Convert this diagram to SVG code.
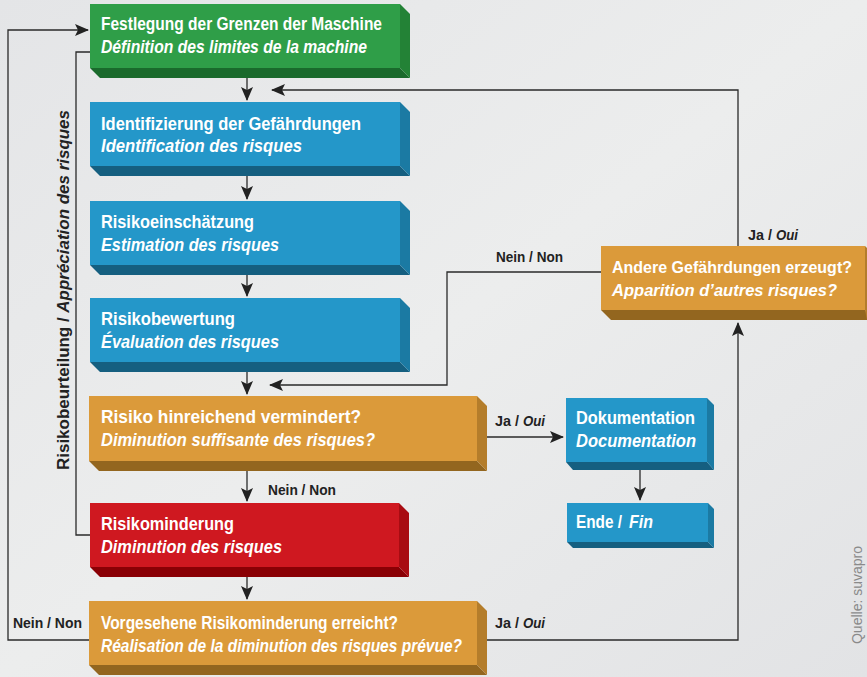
<svg xmlns="http://www.w3.org/2000/svg" width="867" height="677" viewBox="0 0 867 677">
  <defs>
    <linearGradient id="bg" x1="0" y1="0" x2="1" y2="1">
      <stop offset="0" stop-color="#e4e5e7"/>
      <stop offset="0.5" stop-color="#eceded"/>
      <stop offset="1" stop-color="#e2e3e5"/>
    </linearGradient>
    <marker id="arr" viewBox="0 0 14 12" refX="13" refY="6" markerWidth="14" markerHeight="12" markerUnits="userSpaceOnUse" orient="auto">
      <path d="M0,0 L14,6 L0,12 L3,6 z" fill="#222"/>
    </marker>
    <style>
      .t { font-family: "Liberation Sans", Arial, sans-serif; font-weight: bold; font-size: 18px; fill: #ffffff; }
      .t.s { font-size: 16.5px; }
      .i { font-style: italic; }
      .lbl { font-family: "Liberation Sans", Arial, sans-serif; font-weight: bold; font-size: 14px; fill: #222; }
      .side { font-family: "Liberation Sans", Arial, sans-serif; font-weight: bold; font-size: 17px; fill: #222; }
      .src { font-family: "Liberation Sans", Arial, sans-serif; font-size: 14px; fill: #8a8a8a; }
      .ln { fill: none; stroke: #2a2a2a; stroke-width: 1.3; }
      .ah { marker-end: url(#arr); }
      .g1 { fill: #2f9e48; } .g2 { fill: #1a6a2c; } .g3 { fill: #238236; }
      .b1 { fill: #2497c9; } .b2 { fill: #155f80; } .b3 { fill: #1b7aa3; }
      .o1 { fill: #db9a3a; } .o2 { fill: #93661f; } .o3 { fill: #b47d2b; }
      .r1 { fill: #cf1820; } .r2 { fill: #8a0005; } .r3 { fill: #a80c12; }
    </style>
  </defs>

  <rect x="0" y="0" width="867" height="677" fill="url(#bg)"/>

  <!-- connectors -->
  <g id="connectors">
    <path class="ln ah" d="M247,78 V100"/>
    <path class="ln ah" d="M738,246 V90 H272"/>
    <path class="ln ah" d="M247,176 V199"/>
    <path class="ln ah" d="M247,275 V296"/>
    <path class="ln ah" d="M247,372 V394"/>
    <path class="ln ah" d="M601,272 H447 V385 H270"/>
    <path class="ln ah" d="M487,437 H563"/>
    <path class="ln ah" d="M247,471 V501"/>
    <path class="ln ah" d="M640,470 V500"/>
    <path class="ln ah" d="M247,577 V599"/>
    <path class="ln ah" d="M487,640 H738 V323"/>
    <path class="ln ah" d="M89,640 H8 V30 H88"/>
    <path class="ln" d="M90,535 H76 V52 H90"/>
  </g>

  <!-- connector labels -->
  <g id="labels">
    <text class="lbl" x="748" y="240" textLength="24" lengthAdjust="spacingAndGlyphs">Ja /</text>
    <text class="lbl i" x="776" y="240" textLength="22" lengthAdjust="spacingAndGlyphs">Oui</text>
    <text class="lbl" x="496" y="262" textLength="67" lengthAdjust="spacingAndGlyphs">Nein / Non</text>
    <text class="lbl" x="495" y="426" textLength="24" lengthAdjust="spacingAndGlyphs">Ja /</text>
    <text class="lbl i" x="523" y="426" textLength="22" lengthAdjust="spacingAndGlyphs">Oui</text>
    <text class="lbl" x="268" y="495" textLength="68" lengthAdjust="spacingAndGlyphs">Nein / Non</text>
    <text class="lbl" x="495" y="628" textLength="24" lengthAdjust="spacingAndGlyphs">Ja /</text>
    <text class="lbl i" x="523" y="628" textLength="22" lengthAdjust="spacingAndGlyphs">Oui</text>
    <text class="lbl" x="13" y="628" textLength="69" lengthAdjust="spacingAndGlyphs">Nein / Non</text>
    <text class="side" transform="translate(69,470) rotate(-90)" textLength="360" lengthAdjust="spacingAndGlyphs">Risikobeurteilung  / <tspan class="i">Appréciation des risques</tspan></text>
    <text class="src" transform="translate(862,595) rotate(-90)" text-anchor="middle">Quelle: suvapro</text>
  </g>

  <!-- nodes -->
  <g id="n-festlegung">
    <polygon class="g2" points="90,68 400,68 410,78 100,78"/>
    <polygon class="g3" points="400,4 410,14 410,78 400,68"/>
    <rect class="g1" x="90" y="4" width="310" height="64"/>
    <text class="t" x="101" y="30" textLength="281" lengthAdjust="spacingAndGlyphs">Festlegung der Grenzen der Maschine</text>
    <text class="t i" x="101" y="53" textLength="266" lengthAdjust="spacingAndGlyphs">Définition des limites de la machine</text>
  </g>

  <g id="n-identifizierung">
    <polygon class="b2" points="90,166 400,166 410,176 100,176"/>
    <polygon class="b3" points="400,102 410,112 410,176 400,166"/>
    <rect class="b1" x="90" y="102" width="310" height="64"/>
    <text class="t" x="101" y="130" textLength="260" lengthAdjust="spacingAndGlyphs">Identifizierung der Gefährdungen</text>
    <text class="t i" x="101" y="152" textLength="201" lengthAdjust="spacingAndGlyphs">Identification des risques</text>
  </g>

  <g id="n-einschaetzung">
    <polygon class="b2" points="90,265 400,265 410,275 100,275"/>
    <polygon class="b3" points="400,201 410,211 410,275 400,265"/>
    <rect class="b1" x="90" y="201" width="310" height="64"/>
    <text class="t" x="101" y="228" textLength="153" lengthAdjust="spacingAndGlyphs">Risikoeinschätzung</text>
    <text class="t i" x="101" y="251" textLength="178" lengthAdjust="spacingAndGlyphs">Estimation des risques</text>
  </g>

  <g id="n-bewertung">
    <polygon class="b2" points="90,362 400,362 410,372 100,372"/>
    <polygon class="b3" points="400,298 410,308 410,372 400,362"/>
    <rect class="b1" x="90" y="298" width="310" height="64"/>
    <text class="t" x="101" y="325" textLength="134" lengthAdjust="spacingAndGlyphs">Risikobewertung</text>
    <text class="t i" x="101" y="348" textLength="178" lengthAdjust="spacingAndGlyphs">Évaluation des risques</text>
  </g>

  <g id="n-hinreichend">
    <polygon class="o2" points="89,461 477,461 487,471 99,471"/>
    <polygon class="o3" points="477,396 487,406 487,471 477,461"/>
    <rect class="o1" x="89" y="396" width="388" height="65"/>
    <text class="t" x="101" y="423" textLength="260" lengthAdjust="spacingAndGlyphs">Risiko hinreichend vermindert?</text>
    <text class="t i" x="101" y="446" textLength="274" lengthAdjust="spacingAndGlyphs">Diminution suffisante des risques?</text>
  </g>

  <g id="n-minderung">
    <polygon class="r2" points="90,567 399,567 409,577 100,577"/>
    <polygon class="r3" points="399,503 409,513 409,577 399,567"/>
    <rect class="r1" x="90" y="503" width="309" height="64"/>
    <text class="t" x="101" y="530" textLength="133" lengthAdjust="spacingAndGlyphs">Risikominderung</text>
    <text class="t i" x="101" y="553" textLength="181" lengthAdjust="spacingAndGlyphs">Diminution des risques</text>
  </g>

  <g id="n-erreicht">
    <polygon class="o2" points="89,665 477,665 487,675 99,675"/>
    <polygon class="o3" points="477,601 487,611 487,675 477,665"/>
    <rect class="o1" x="89" y="601" width="388" height="64"/>
    <text class="t" x="101" y="629" textLength="297" lengthAdjust="spacingAndGlyphs">Vorgesehene Risikominderung erreicht?</text>
    <text class="t i" x="101" y="652" textLength="361" lengthAdjust="spacingAndGlyphs">Réalisation de la diminution des risques prévue?</text>
  </g>

  <g id="n-andere">
    <polygon class="o2" points="601,310 865,310 867,313 867,320 611,320"/>
    <rect class="o1" x="601" y="246" width="264" height="64"/>
    <polygon class="o3" points="865,246 867,248 867,320 865,310"/>
    <text class="t s" x="612" y="273" textLength="240" lengthAdjust="spacingAndGlyphs">Andere Gefährdungen erzeugt?</text>
    <text class="t s i" x="612" y="296" textLength="225" lengthAdjust="spacingAndGlyphs">Apparition d’autres risques?</text>
  </g>

  <g id="n-dokumentation">
    <polygon class="b2" points="566,462 707,462 714,470 573,470"/>
    <polygon class="b3" points="707,398 714,405 714,470 707,462"/>
    <rect class="b1" x="566" y="398" width="141" height="64"/>
    <text class="t" x="576" y="424" textLength="119" lengthAdjust="spacingAndGlyphs">Dokumentation</text>
    <text class="t i" x="576" y="447" textLength="120" lengthAdjust="spacingAndGlyphs">Documentation</text>
  </g>

  <g id="n-ende">
    <polygon class="b2" points="567,542 708,542 714,548 573,548"/>
    <polygon class="b3" points="708,503 714,509 714,548 708,542"/>
    <rect class="b1" x="567" y="503" width="141" height="39"/>
    <text class="t" x="576" y="528" textLength="46" lengthAdjust="spacingAndGlyphs">Ende /</text>
    <text class="t i" x="629" y="528" textLength="24" lengthAdjust="spacingAndGlyphs">Fin</text>
  </g>
</svg>
